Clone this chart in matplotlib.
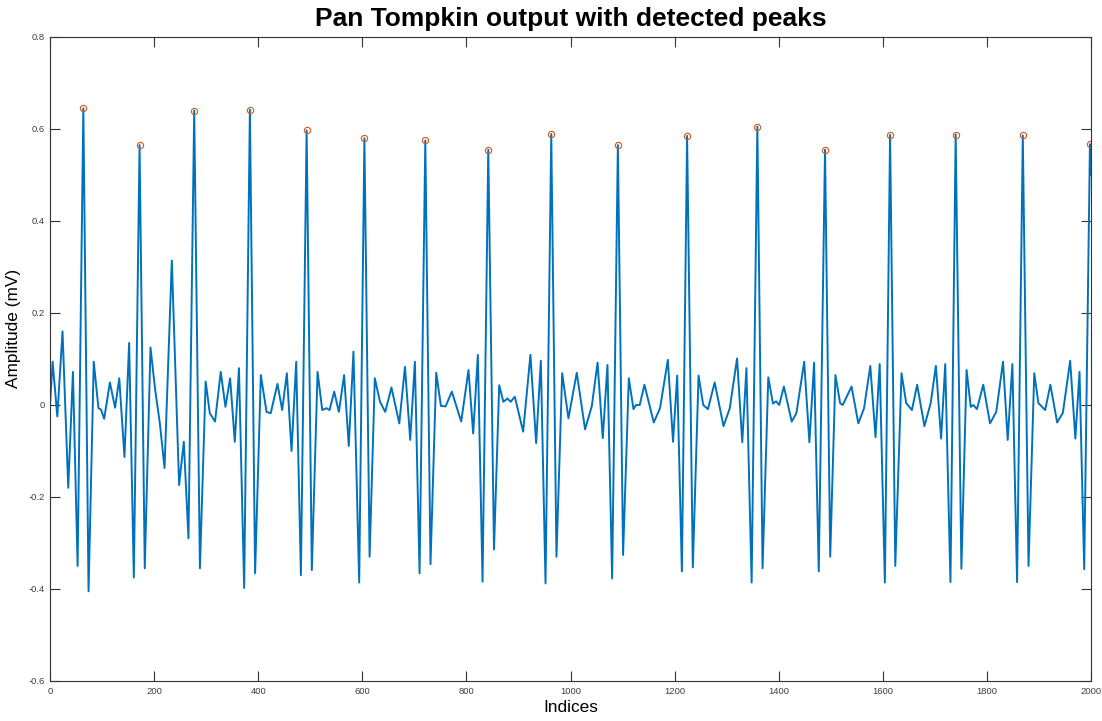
import numpy as np
import matplotlib
matplotlib.use("Agg")
from matplotlib import pyplot as plt

# signal turning points (sample index, amplitude in mV)
idx = [0, 5, 14, 24, 35, 44, 53, 64, 74, 84, 93, 98, 104, 115, 125, 133, 143, 152, 161,
       172, 182, 193, 202, 211, 220, 234, 248, 257, 266, 277, 288, 299, 307, 317, 328,
       337, 346, 355, 363, 373, 384, 394, 405, 416, 424, 437, 446, 455, 464, 473, 482,
       493, 503, 514, 523, 531, 537, 546, 555, 565, 574, 583, 594, 604, 614, 624, 634,
       644, 656, 671, 682, 692, 701, 710, 721, 731, 742, 751, 760, 772, 790, 804, 813,
       822, 831, 842, 853, 863, 871, 879, 885, 893, 909, 923, 934, 943, 952, 963, 973,
       984, 996, 1012, 1028, 1041, 1052, 1062, 1071, 1080, 1091, 1101, 1112, 1121, 1126,
       1133, 1142, 1160, 1172, 1187, 1197, 1205, 1214, 1224, 1235, 1246, 1255, 1264,
       1277, 1294, 1306, 1320, 1330, 1338, 1348, 1359, 1369, 1380, 1389, 1395, 1401,
       1410, 1425, 1434, 1449, 1459, 1468, 1477, 1489, 1499, 1509, 1518, 1523, 1540,
       1553, 1564, 1576, 1586, 1594, 1604, 1614, 1624, 1636, 1645, 1656, 1666, 1680,
       1692, 1702, 1712, 1720, 1730, 1740, 1751, 1761, 1769, 1774, 1781, 1793, 1806,
       1818, 1831, 1840, 1849, 1858, 1869, 1880, 1891, 1899, 1912, 1922, 1935, 1946,
       1960, 1970, 1978, 1987, 1998, 2000]
amp = [0.0, 0.094, -0.025, 0.16, -0.18, 0.072, -0.35, 0.645, -0.405, 0.094, -0.007, -0.01,
       -0.03, 0.049, -0.006, 0.058, -0.113, 0.135, -0.375, 0.565, -0.355, 0.125, 0.033,
       -0.04, -0.137, 0.314, -0.174, -0.08, -0.29, 0.64, -0.355, 0.051, -0.018, -0.036,
       0.072, -0.004, 0.058, -0.08, 0.08, -0.398, 0.642, -0.366, 0.065, -0.015, -0.018,
       0.046, -0.011, 0.069, -0.1, 0.094, -0.37, 0.597, -0.359, 0.072, -0.011, -0.007,
       -0.011, 0.029, -0.015, 0.065, -0.089, 0.116, -0.386, 0.58, -0.33, 0.058, 0.007,
       -0.015, 0.038, -0.04, 0.083, -0.076, 0.094, -0.366, 0.575, -0.346, 0.07, -0.002,
       -0.003, 0.029, -0.036, 0.076, -0.062, 0.109, -0.384, 0.555, -0.314, 0.043, 0.007,
       0.014, 0.007, 0.018, -0.058, 0.109, -0.083, 0.096, -0.388, 0.589, -0.33, 0.069,
       -0.029, 0.07, -0.053, -0.002, 0.092, -0.072, 0.087, -0.377, 0.565, -0.326, 0.058,
       -0.009, 0.0, 0.0, 0.044, -0.038, -0.007, 0.098, -0.08, 0.064, -0.362, 0.585,
       -0.353, 0.064, 0.0, -0.009, 0.049, -0.046, -0.007, 0.101, -0.081, 0.08, -0.386,
       0.605, -0.355, 0.06, 0.003, 0.008, 0.0, 0.04, -0.036, -0.018, 0.094, -0.081,
       0.092, -0.362, 0.555, -0.33, 0.065, 0.004, 0.0, 0.04, -0.04, -0.007, 0.085, -0.07,
       0.089, -0.386, 0.587, -0.35, 0.069, 0.004, -0.011, 0.044, -0.046, 0.004, 0.085,
       -0.073, 0.089, -0.385, 0.588, -0.356, 0.076, -0.004, 0.0, -0.009, 0.044, -0.04,
       -0.015, 0.094, -0.076, 0.089, -0.385, 0.586, -0.35, 0.069, 0.004, -0.011, 0.044,
       -0.038, -0.017, 0.096, -0.073, 0.072, -0.357, 0.567, 0.5]

# detected R peaks
peak_idx = [64, 172, 277, 384, 493, 604, 721, 842, 963, 1091, 1224, 1359, 1489, 1614,
            1740, 1869, 1998]
peak_amp = [0.645, 0.565, 0.64, 0.642, 0.597, 0.58, 0.575, 0.555, 0.589, 0.565, 0.585,
            0.605, 0.555, 0.587, 0.588, 0.586, 0.567]

xticks = [0, 200, 400, 600, 800, 1000, 1200, 1400, 1600, 1800, 2000]
yticks = [-0.6, -0.4, -0.2, 0, 0.2, 0.4, 0.6, 0.8]
ytick_labels = ["-0.6", "-0.4", "-0.2", "0", "0.2", "0.4", "0.6", "0.8"]

plt.rcParams['font.family'] = ['Liberation Sans', 'DejaVu Sans']

fig = plt.figure(figsize=(11.02, 7.21), dpi=100)
ax = fig.add_axes([0.0454, 0.0555, 0.9446, 0.8932])

ax.plot(idx, amp, color='#0072BD', lw=1.4, solid_joinstyle='round')
ax.plot(peak_idx, peak_amp, 'o', mfc='none', mec='#D95319', ms=4.5, mew=0.8)

ax.set_xlim(0, 2000)
ax.set_ylim(-0.6, 0.8)
ax.set_xticks(xticks)
ax.set_xticklabels([str(t) for t in xticks])
ax.set_yticks(yticks)
ax.set_yticklabels(ytick_labels)
ax.tick_params(direction='in', length=7, width=0.8, top=True, right=True,
               labelsize=6.8, labelcolor='#404040', color='#333333', pad=4)
for s in ax.spines.values():
    s.set_color('#333333')
    s.set_linewidth(0.8)

ax.set_title("Pan Tompkin output with detected peaks", fontsize=19, fontweight='bold',
             pad=8)
ax.set_xlabel("Indices", fontsize=12.4, labelpad=3)
ax.set_ylabel("Amplitude (mV)", fontsize=12.4)
ax.yaxis.set_label_coords(-0.028, 0.547)

fig.savefig("out.png", dpi=100)
